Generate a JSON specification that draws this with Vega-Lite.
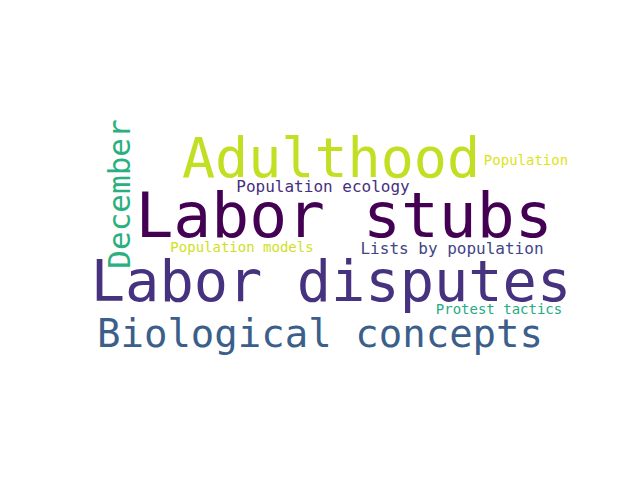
{
"$schema":"https://vega.github.io/schema/vega-lite/v6.json",
"width":640,"height":480,"padding":0,
"autosize":{"type":"fit","contains":"padding"},
"config":{"view":{"stroke":null}},
"background":"white",
"data":{"values":[
{"w":"Labor stubs","x":344,"y":218,"s":63,"c":"#440154","a":0},
{"w":"Labor disputes","x":331,"y":284,"s":57,"c":"#46327e","a":0},
{"w":"Adulthood","x":331,"y":160,"s":55,"c":"#c2df23","a":0},
{"w":"Biological concepts","x":320,"y":335,"s":39,"c":"#3b5f8a","a":0},
{"w":"December","x":121,"y":194,"s":31,"c":"#2ab07f","a":-90},
{"w":"Population ecology","x":323,"y":187,"s":16,"c":"#472f7d","a":0},
{"w":"Population","x":526,"y":161,"s":14,"c":"#dde318","a":0},
{"w":"Population models","x":242,"y":248,"s":14,"c":"#d0e11c","a":0},
{"w":"Lists by population","x":452,"y":249,"s":16,"c":"#414487","a":0},
{"w":"Protest tactics","x":499,"y":310,"s":14,"c":"#25ab82","a":0}
]},
"mark":{"type":"text","font":"DejaVu Sans Mono","align":"center","baseline":"middle"},
"encoding":{
"x":{"field":"x","type":"quantitative","scale":{"domain":[0,640]},"axis":null},
"y":{"field":"y","type":"quantitative","scale":{"domain":[0,480],"reverse":true},"axis":null},
"text":{"field":"w"},
"size":{"field":"s","type":"quantitative","scale":null},
"color":{"field":"c","type":"nominal","scale":null},
"angle":{"field":"a","type":"quantitative","scale":null}
}
}
